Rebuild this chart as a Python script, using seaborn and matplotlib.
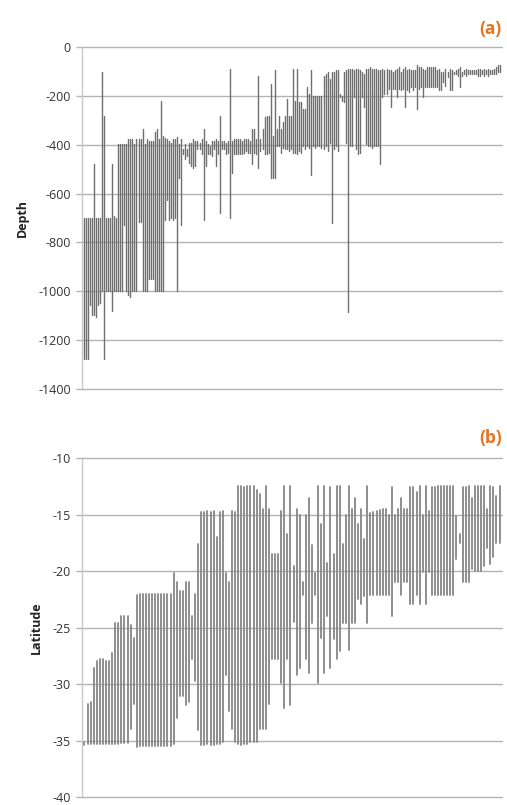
import matplotlib
matplotlib.use("Agg")
import matplotlib.pyplot as plt
import numpy as np
import pandas as pd
import seaborn as sns

# ---------------- data ----------------
# (a) depth range of each species (shallow limit, deep limit), sorted
depth_shallow = [
    -700, -700, -700, -700, -700, -480, -700, -700, -700, -103,
    -284, -700, -700, -700, -480, -693, -700, -398, -398, -398,
    -398, -398, -378, -378, -378, -398, -378, -378, -378, -336,
    -398, -378, -384, -384, -384, -350, -336, -378, -220, -364,
    -371, -378, -384, -391, -378, -378, -370, -398, -378, -419,
    -398, -419, -391, -391, -378, -384, -384, -391, -378, -336,
    -384, -398, -405, -384, -384, -378, -384, -281, -384, -384,
    -391, -384, -89, -384, -378, -378, -378, -378,
    -384, -378, -378, -378, -384, -336, -336, -378, -120, -378,
    -336, -288, -281, -281, -151, -364, -96, -336, -281, -336,
    -309, -281, -213, -281, -281, -89, -220, -89, -226, -226,
    -254, -254, -165, -192, -96, -199, -199, -199, -199, -199,
    -117, -110, -103, -130, -103, -103, -96, -96, -192, -199,
    -103, -96, -89, -89, -89, -96, -89, -89, -96, -103,
    -110, -89, -89, -82, -89, -89, -89, -96, -96, -89,
    -96, -89, -96, -96, -103, -96, -89, -82, -103, -89,
    -82, -96, -89, -96, -96, -96, -75, -82, -82, -89,
    -96, -82, -82, -82, -82, -82, -96, -89, -103, -103,
    -89, -103, -89, -96, -103, -96, -89, -82, -103, -96,
    -89, -96, -96, -96, -96, -96, -89, -89, -96, -89,
    -96, -89, -96, -96, -89, -82, -75, -75,
]
depth_deep = [
    -1277, -1277, -1277, -1057, -1098, -1098, -1105, -1057, -1050, -1000,
    -1277, -1000, -1000, -1000, -1080, -1000, -1000, -1000, -1000, -1000,
    -727, -1000, -1016, -1022, -1000, -1000, -1000, -718, -718, -1000,
    -1000, -1000, -951, -951, -951, -1000, -1000, -1000, -1000, -1000,
    -707, -625, -707, -700, -707, -700, -1000, -535, -727, -439,
    -460, -446, -474, -487, -494, -487, -419, -419, -439, -707,
    -487, -439, -439, -446, -419, -487, -439, -680, -419, -419,
    -439, -432, -700, -515, -439, -439, -439, -439,
    -439, -432, -426, -432, -432, -480, -432, -439, -494, -426,
    -419, -439, -439, -432, -535, -535, -535, -405, -405, -432,
    -412, -419, -419, -426, -419, -432, -432, -439, -426, -432,
    -405, -419, -405, -412, -522, -405, -412, -405, -405, -412,
    -419, -405, -426, -391, -720, -419, -405, -426, -206, -220,
    -226, -391, -1085, -405, -405, -206, -419, -439, -432, -206,
    -247, -398, -405, -405, -412, -405, -405, -405, -480, -206,
    -192, -192, -172, -247, -172, -172, -206, -172, -178, -172,
    -247, -178, -185, -165, -178, -165, -254, -172, -165, -206,
    -165, -165, -165, -165, -165, -165, -165, -178, -178, -144,
    -158, -124, -178, -178, -110, -110, -117, -165, -117, -110,
    -117, -110, -110, -110, -110, -110, -117, -117, -110, -117,
    -110, -117, -110, -110, -110, -110, -103, -103,
]

# (b) latitudinal range of each species (northern limit, southern limit), sorted
lat_north = [
    -35.1, -31.8, -31.6, -28.6, -28.0, -27.8, -27.8, -28.0, -28.0, -27.25,
    -24.6, -24.6, -24.0, -24.0, -24.0, -24.8, -25.9, -22.1, -22.0, -22.0,
    -22.0, -22.0, -22.0, -22.0, -22.0, -22.0, -22.0, -22.0, -22.0, -20.2,
    -21.0, -21.8, -21.8, -21.0, -21.0, -24.0, -22.0, -17.6, -14.8, -14.8,
    -14.7, -14.8, -14.7, -17.0, -14.8, -14.7, -20.2, -21.0, -14.7, -14.8,
    -12.5, -12.5, -12.6, -12.5, -12.5, -12.5, -12.8, -13.2,
    -14.5, -12.5, -14.5, -18.5, -18.5, -18.5, -14.7, -12.5, -16.7, -12.5,
    -19.6, -14.5, -15.0, -21.0, -15.0, -13.5, -17.7, -20.2, -12.5, -15.8,
    -12.5, -19.3, -12.6, -18.5, -12.5, -12.5, -17.6, -15.0, -12.5, -14.5,
    -13.5, -15.8, -14.5, -17.2, -12.5, -14.9, -14.8, -14.7, -14.6, -14.5,
    -14.5, -15.0, -12.6, -15.0, -14.5, -13.5, -14.5, -14.5, -12.6, -12.6,
    -13.0, -12.5, -15.0, -12.5, -14.7, -12.6, -12.6, -12.5, -12.5, -12.5,
    -12.5, -12.5, -12.5, -15.1, -16.7, -12.6, -12.6, -12.5, -13.5, -12.5,
    -12.5, -12.5, -12.5, -14.5, -12.5, -12.6, -13.4, -12.5,
]
lat_south = [
    -35.4, -35.3, -35.3, -35.3, -35.3, -35.3, -35.3, -35.3, -35.3, -35.3,
    -35.3, -35.3, -35.2, -35.2, -35.2, -34.0, -31.8, -35.6, -35.5, -35.5,
    -35.5, -35.5, -35.5, -35.5, -35.5, -35.5, -35.5, -35.5, -35.5, -35.3,
    -33.0, -31.1, -31.1, -31.9, -31.6, -27.8, -29.7, -34.1, -35.4, -35.4,
    -35.3, -35.4, -35.4, -35.3, -35.3, -35.1, -29.2, -32.4, -34.0, -35.1,
    -35.3, -35.4, -35.3, -35.3, -35.1, -35.1, -35.1, -34.0,
    -34.0, -34.0, -31.8, -27.8, -27.8, -27.8, -29.9, -32.1, -27.8, -31.9,
    -24.5, -29.2, -28.6, -22.1, -27.8, -29.0, -24.6, -22.1, -29.9, -25.9,
    -29.0, -24.0, -28.6, -26.0, -27.8, -27.1, -24.6, -24.6, -27.0, -24.6,
    -24.6, -22.5, -22.9, -22.2, -24.6, -22.1, -22.1, -22.1, -22.1, -22.1,
    -22.1, -22.1, -24.0, -21.0, -21.0, -22.1, -21.0, -21.0, -22.9, -22.9,
    -22.1, -22.9, -20.1, -22.9, -20.1, -22.1, -22.1, -22.1, -22.1, -22.1,
    -22.1, -22.1, -22.1, -18.9, -17.5, -21.0, -21.0, -21.0, -19.8, -20.0,
    -20.0, -20.0, -19.6, -18.0, -19.4, -18.8, -17.5, -17.5,
]

depth_ticks = [0, -200, -400, -600, -800, -1000, -1200, -1400]
lat_ticks = [-10, -15, -20, -25, -30, -35, -40]


def to_long(top, bottom):
    idx = list(range(len(top)))
    return pd.DataFrame({"species": idx + idx, "value": list(top) + list(bottom)})


# ---------------- style ----------------
sns.set_theme(style="white")
plt.rcParams["font.family"] = ["Open Sans", "DejaVu Sans"]
plt.rcParams["axes.unicode_minus"] = False

W, H = 507, 805
fig = plt.figure(figsize=(W / 100, H / 100), dpi=100)
ax1 = fig.add_axes([82 / W, 1 - 389 / H, 420 / W, 342 / H])
ax2 = fig.add_axes([82 / W, 1 - 797 / H, 420 / W, 339 / H])

GRID = "#b3b3b3"


def style(ax, ticks, ylabel, n, lab_pad):
    ax.set_ylim(min(ticks), max(ticks))
    ax.set_yticks(ticks)
    ax.set_xlim(-0.8, n - 0.2)
    ax.set_xticks([])
    ax.set_xlabel("")
    ax.set_ylabel(ylabel, fontsize=9, fontweight="bold", color="#222222", labelpad=lab_pad)
    ax.yaxis.grid(True, color=GRID, lw=1.0)
    ax.xaxis.grid(False)
    ax.set_axisbelow(True)
    for s in ["top", "right", "bottom"]:
        ax.spines[s].set_visible(False)
    ax.spines["left"].set_color("#c8c8c8")
    ax.spines["left"].set_linewidth(1.0)
    ax.tick_params(axis="y", left=True, length=4, width=1.0, color=GRID,
                   pad=4, labelsize=9, labelcolor="#333333")
    for line in ax.get_ygridlines():
        line.set_clip_on(False)


df_a = to_long(depth_shallow, depth_deep)
sns.lineplot(data=df_a, x="species", y="value", units="species", estimator=None,
             color="#6f6f6f", lw=1.0, ax=ax1, legend=False)
style(ax1, depth_ticks, "Depth", len(depth_shallow), 7)

df_b = to_long(lat_north, lat_south)
sns.lineplot(data=df_b, x="species", y="value", units="species", estimator=None,
             color="#868686", lw=1.3, ax=ax2, legend=False)
style(ax2, lat_ticks, "Latitude", len(lat_north), 7)

fig.text(502 / W, 1 - 29 / H, "(a)", ha="right", va="center", color="#e8731e",
         fontsize=12.5, fontweight="bold")
fig.text(502 / W, 1 - 438 / H, "(b)", ha="right", va="center", color="#e8731e",
         fontsize=12.5, fontweight="bold")

fig.savefig("out.png", dpi=100, facecolor="white")
